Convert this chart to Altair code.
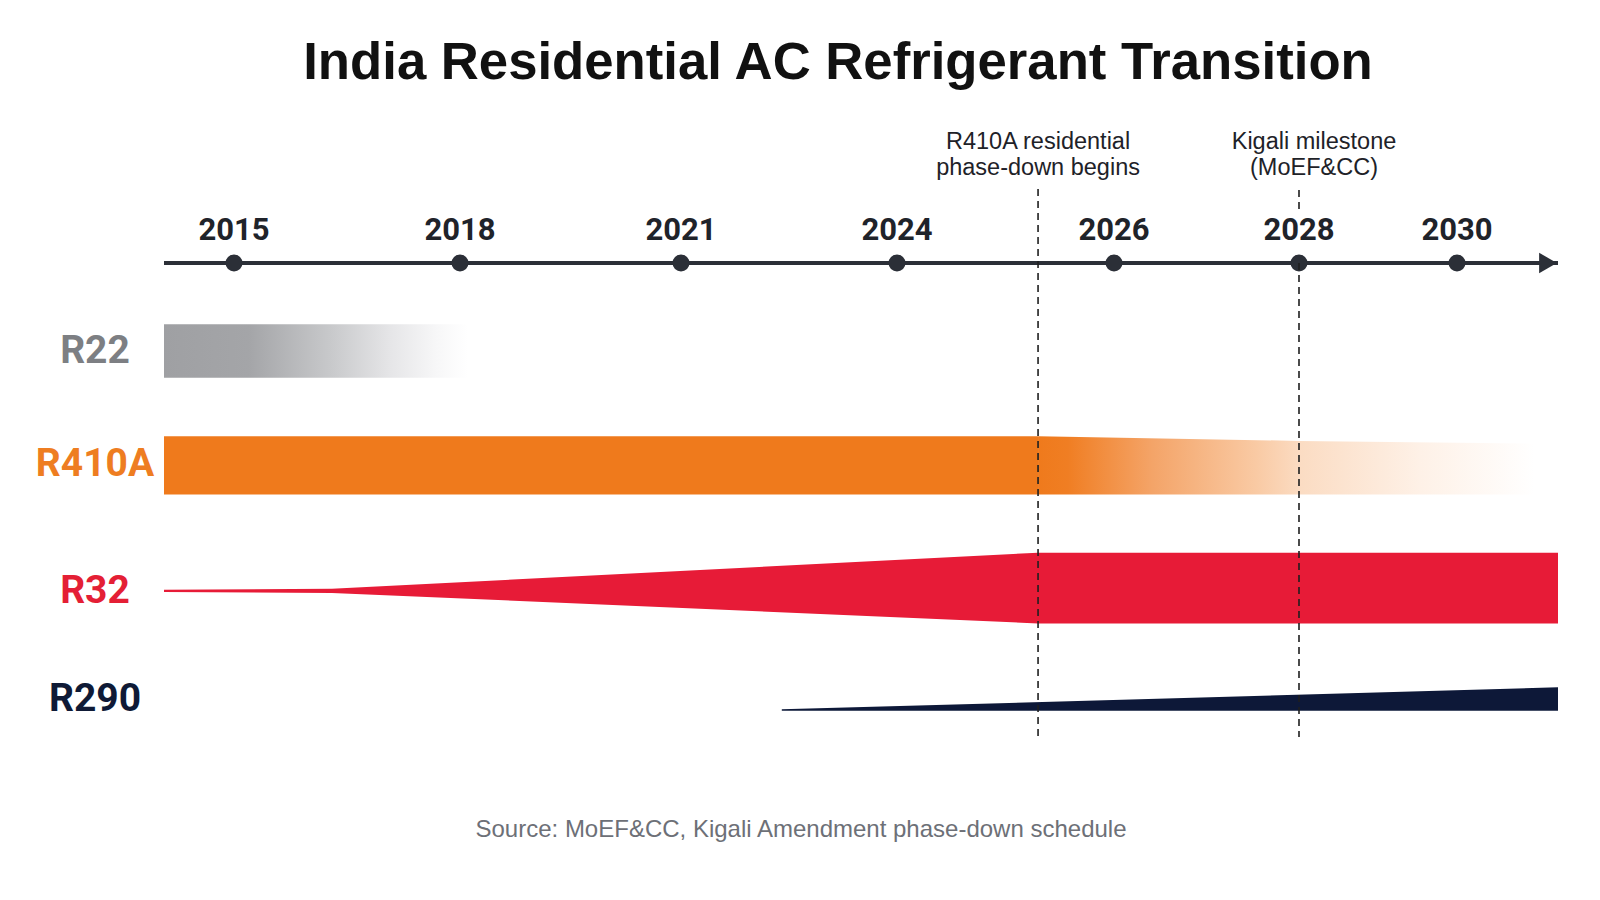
import altair as alt
import numpy as np
import pandas as pd

# ---- text -----------------------------------------------------------------
TITLE = "India Residential AC Refrigerant Transition"
SOURCE = "Source: MoEF&CC, Kigali Amendment phase-down schedule"

# ---- timeline -------------------------------------------------------------
tick_years = [2015, 2018, 2021, 2024, 2026, 2028, 2030]
timeline_start = 2014
timeline_end = 2031.3

# ---- refrigerant lanes ----------------------------------------------------
refrigerants = ["R22", "R410A", "R32", "R290"]
label_colors = ["#7d7f83", "#ee7d21", "#e41f35", "#0f1a36"]

# band profiles: breakpoint years and relative band thickness (1 = widest)
r22_years = [2014, 2018.1]
r22_share = [0.79, 0.79]

r410a_years = [2014, 2025.3]
r410a_share = [0.81, 0.81]
r410a_fade_years = [2025.3, 2028, 2031]
r410a_fade_share = [0.81, 0.74, 0.70]

r32_years = [2014, 2016.3, 2025.3, 2031.3]
r32_share = [0.03, 0.06, 1.0, 1.0]

r290_years = [2022.4, 2031.3]
r290_share = [0.02, 0.36]

# ---- milestones -----------------------------------------------------------
milestone_years = [2025.3, 2028]
milestone_labels = ["R410A residential\nphase-down begins", "Kigali milestone\n(MoEF&CC)"]

# ---- layout ---------------------------------------------------------------
W, H = 1600, 900
AXIS_Y = 263
BAND = 0.6  # lane units taken by a band of thickness 1

# piecewise timeline scale (the timeline is not evenly spaced in years)
X_SCALE = alt.Scale(
    domain=[timeline_start] + tick_years + [timeline_end],
    range=[164, 234, 460, 681, 897, 1114, 1299, 1457, 1558],
    nice=False, zero=False,
)
# one lane per refrigerant, lane centres spaced piecewise down the page
Y_SCALE = alt.Scale(domain=[0, 1, 2, 3], range=[351, 463.5, 591, 699], nice=False, zero=False)

CONDENSED = "Noto Sans Condensed, Roboto, sans-serif"
SANS = "Liberation Sans, Arial, sans-serif"
INK = "#2b2f37"


def band_frame(name, years, share, anchor="center", base_share=None):
    lane = refrigerants.index(name)
    t = np.asarray(share, dtype=float) * BAND
    if anchor == "center":
        top, bottom = lane - t / 2, lane + t / 2
    else:
        base = lane + (base_share if base_share is not None else max(share)) * BAND / 2
        bottom = np.full_like(t, base)
        top = bottom - t
    return pd.DataFrame({"year": years, "top": top, "bottom": bottom, "name": name})


def xq(field="year"):
    return alt.X(f"{field}:Q", scale=X_SCALE, axis=None)


def area_layer(df, color):
    return alt.Chart(df).mark_area(color=color, interpolate="linear", opacity=1).encode(
        x=xq(),
        y=alt.Y("top:Q", scale=Y_SCALE, axis=None),
        y2="bottom:Q",
    )


def fade(stops):
    return alt.Gradient(
        gradient="linear",
        stops=[alt.GradientStop(color=c, offset=o) for o, c in stops],
        x1=0, x2=1, y1=0, y2=0,
    )


r22 = area_layer(
    band_frame("R22", r22_years, r22_share),
    fade([(0, "#9fa0a3"), (0.28, "#a4a5a8"), (0.55, "#c8c9cb"),
          (0.75, "#e6e6e8"), (0.9, "#f7f7f8"), (1, "#ffffff")]),
)
r410a_solid = area_layer(
    band_frame("R410A", r410a_years, r410a_share, "bottom", max(r410a_share)),
    "#ef7a1c",
)
r410a_fade = area_layer(
    band_frame("R410A", r410a_fade_years, r410a_fade_share, "bottom", max(r410a_share)),
    fade([(0, "#ef7a1c"), (0.06, "#f07e23"), (0.23, "#f4a468"), (0.44, "#f9caa4"),
          (0.53, "#fbdcc3"), (0.77, "#fef1e7"), (1, "#ffffff")]),
)
r32 = area_layer(band_frame("R32", r32_years, r32_share), "#e71b37")
r290 = area_layer(band_frame("R290", r290_years, r290_share, "bottom"), "#0d1838")

# ---- timeline: line, arrow head, dots, year labels ---------------------------
span = pd.DataFrame({"start": [timeline_start], "end": [timeline_end]})
axis_line = alt.Chart(span).mark_rule(strokeWidth=4, color=INK, strokeCap="butt").encode(
    x=xq("start"), x2="end:Q", y=alt.value(AXIS_Y)
)
arrow = alt.Chart(span).mark_point(
    shape="triangle-right", filled=True, size=420, color=INK, opacity=1, xOffset=-10
).encode(x=xq("end"), y=alt.value(AXIS_Y))

ticks = pd.DataFrame({"year": tick_years})
dots = alt.Chart(ticks).mark_circle(size=290, color=INK, opacity=1).encode(
    x=xq(), y=alt.value(AXIS_Y)
)
year_labels = alt.Chart(ticks).mark_text(
    font=CONDENSED, fontSize=31, fontWeight="bold", color="#1f232a",
    align="center", baseline="middle",
).encode(x=xq(), y=alt.value(231), text=alt.Text("year:Q", format="d"))

# ---- milestone dashed lines and notes --------------------------------------
ms = pd.DataFrame({"year": milestone_years, "label": milestone_labels})
dash = dict(strokeDash=[7, 5], strokeWidth=1.6, color="#1f1f1f")
phase_down = alt.datum.year < 2028
kigali = alt.datum.year == 2028

rule_full = alt.Chart(ms).transform_filter(phase_down).mark_rule(**dash).encode(
    x=xq(), y=alt.value(189), y2=alt.value(737)
)
rule_stub = alt.Chart(ms).transform_filter(kigali).mark_rule(**dash).encode(
    x=xq(), y=alt.value(190), y2=alt.value(212)
)
rule_low = alt.Chart(ms).transform_filter(kigali).mark_rule(**dash).encode(
    x=xq(), y=alt.value(AXIS_Y), y2=alt.value(737)
)
note_style = dict(
    font=SANS, fontSize=23.5, color="#1e2228", align="center", baseline="middle",
    lineBreak="\n", lineHeight=26,
)
note_a = alt.Chart(ms).transform_filter(phase_down).mark_text(**note_style).encode(
    x=xq(), y=alt.value(142), text="label:N"
)
note_b = alt.Chart(ms).transform_filter(kigali).mark_text(dx=15, **note_style).encode(
    x=xq(), y=alt.value(142), text="label:N"
)

# ---- lane labels ------------------------------------------------------------
lanes = pd.DataFrame({"name": refrigerants, "lane": range(len(refrigerants))})
lane_labels = alt.Chart(lanes).mark_text(
    font=CONDENSED, fontSize=39, fontWeight="bold", align="center", baseline="middle"
).encode(
    x=alt.value(95),
    y=alt.Y("lane:Q", scale=Y_SCALE, axis=None),
    text="name:N",
    color=alt.Color("name:N", scale=alt.Scale(domain=refrigerants, range=label_colors), legend=None),
)

# ---- title and source ---------------------------------------------------------
title = alt.Chart(pd.DataFrame({"t": [TITLE]})).mark_text(
    font=SANS, fontSize=52.7, fontWeight="bold", color="#111111", align="center", baseline="middle"
).encode(x=alt.value(838), y=alt.value(63), text="t:N")
source = alt.Chart(pd.DataFrame({"t": [SOURCE]})).mark_text(
    font=SANS, fontSize=24, color="#6d7077", align="center", baseline="middle"
).encode(x=alt.value(801), y=alt.value(830), text="t:N")

chart = alt.layer(
    r22, r410a_solid, r410a_fade, r32, r290,
    axis_line, arrow, dots, year_labels,
    rule_full, rule_stub, rule_low, note_a, note_b,
    lane_labels, title, source,
).properties(
    width=W, height=H, autosize=alt.AutoSizeParams(type="none"), padding=0,
    background="#ffffff",
).configure_view(stroke=None)

chart.save("out.html", embed_options={"renderer": "svg", "actions": False})
